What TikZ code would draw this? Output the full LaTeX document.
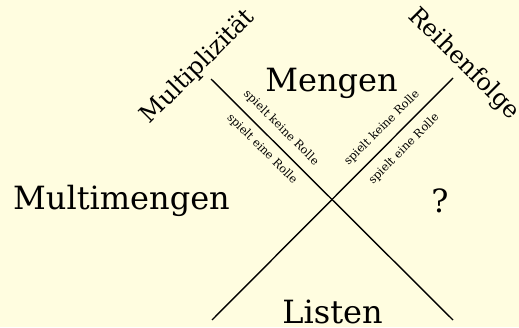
\documentclass[tikz,border=0pt]{standalone}
\usepackage{fontspec}
\setmainfont{DejaVu Serif}
\definecolor{bg}{RGB}{255,253,224}
\begin{document}
\begin{tikzpicture}[x=1pt,y=1pt,
  big/.style={inner sep=0pt,anchor=base,font=\fontsize{32}{38}\selectfont},
  axis/.style={inner sep=0pt,font=\fontsize{24}{28}\selectfont},
  small/.style={inner sep=0pt,font=\fontsize{11.5}{13}\selectfont},
  line/.style={line width=1.4pt}]
\fill[bg] (0,0) rectangle (519,327);
\useasboundingbox (0,0) rectangle (519,327);
% line ends
\coordinate (a1) at (211,248);
\coordinate (a2) at (453,7);
\coordinate (b1) at (453,249);
\coordinate (b2) at (212,7);
\draw[line] (a1) -- (a2);
\draw[line] (b1) -- (b2);
% axis labels
\node[axis,rotate=45] (mult) at (198,260) {Multiplizität};
\node[axis,rotate=-45] (reih) at (464,263) {Reihenfolge};
% small labels
\node[small,rotate=-45] (ak) at (281,199) {spielt keine Rolle};
\node[small,rotate=-45] (ae) at (262,178) {spielt eine Rolle};
\node[small,rotate=45] (bk) at (382,199) {spielt keine Rolle};
\node[small,rotate=45] (be) at (404,178) {spielt eine Rolle};
% regions
\node[big] (mengen) at (331.5,235) {Mengen};
\node[big] (multi) at (121.5,118) {Multimengen};
\node[big] (q) at (440,115) {?};
\node[big] (listen) at (332.5,4) {Listen};
\end{tikzpicture}
\end{document}
